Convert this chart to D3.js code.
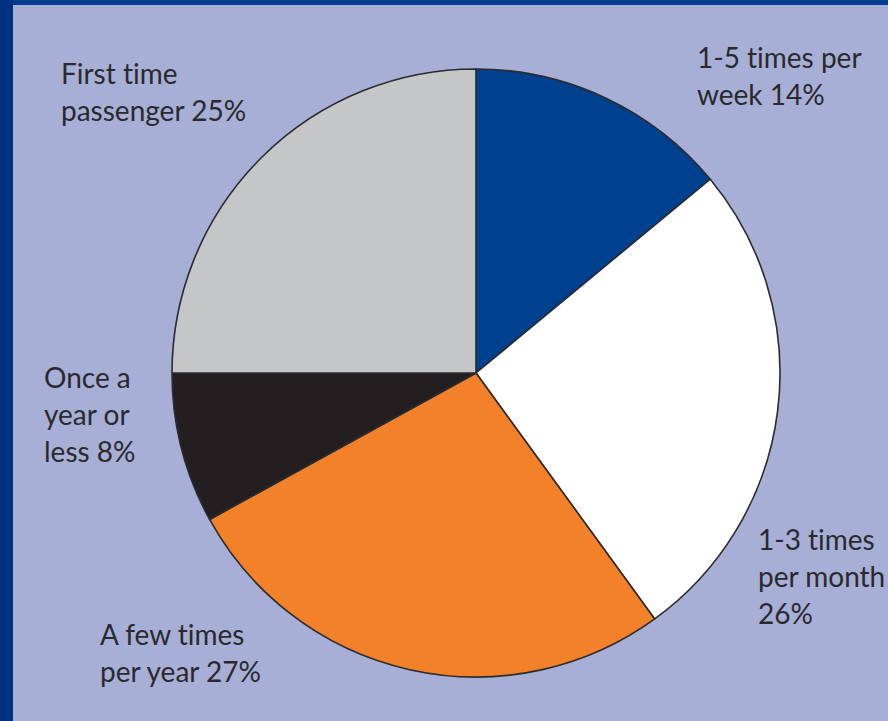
<!DOCTYPE html>
<html>
<head>
<meta charset="utf-8">
<script src="https://cdn.jsdelivr.net/npm/d3@7"></script>
<style>
  html, body { margin: 0; padding: 0; background: #a8afd6; }
  svg { display: block; }
  text { font-variant-ligatures: none; font-feature-settings: "liga" 0; }
</style>
</head>
<body>
<div id="chart"></div>
<script>
const categories = ["1-5 times per week", "1-3 times per month", "A few times per year", "Once a year or less", "First time passenger"];
const shares = [14, 26, 27, 8, 25];
const sliceColors = ["#00418f", "#ffffff", "#f3812a", "#231f20", "#c5c6c8"];
// label lines as printed next to each slice
const labelLines = [
  ["1-5 times per", "week 14%"],
  ["1-3 times", "per month", "26%"],
  ["A few times", "per year 27%"],
  ["Once a", "year or", "less 8%"],
  ["First time", "passenger 25%"]
];
const labelAnchors = [[697, 68], [758, 550], [100, 645], [44, 388], [61, 84]];

const width = 888, height = 721;
const cx = 476, cy = 373, radius = 304;

const svg = d3.select("#chart").append("svg")
  .attr("width", width).attr("height", height);

svg.append("rect").attr("width", width).attr("height", height).attr("fill", "#a8afd6");
svg.append("rect").attr("width", width).attr("height", 5).attr("fill", "#003c8f");
svg.append("rect").attr("width", 13).attr("height", height).attr("fill", "#00337f");

const data = categories.map((c, i) => ({ name: c, value: shares[i], color: sliceColors[i], lines: labelLines[i], at: labelAnchors[i] }));

const pie = d3.pie().value((d) => d.value).sort(null);
const arc = d3.arc().innerRadius(0).outerRadius(radius);

const g = svg.append("g").attr("transform", `translate(${cx},${cy})`);
g.selectAll("path")
  .data(pie(data))
  .join("path")
  .attr("d", arc)
  .attr("fill", (d) => d.data.color)
  .attr("stroke", "#2b2b30")
  .attr("stroke-width", 1.6)
  .attr("stroke-linejoin", "round");

const labels = svg.append("g")
  .attr("font-family", "Lato, 'Open Sans', sans-serif")
  .attr("font-size", 28)
  .attr("fill", "#2a2a2e");

labels.selectAll("text")
  .data(data)
  .join("text")
  .attr("x", (d) => d.at[0])
  .attr("y", (d) => d.at[1])
  .selectAll("tspan")
  .data((d) => d.lines.map((l, i) => ({ l, i, x: d.at[0] })))
  .join("tspan")
  .attr("x", (t) => t.x)
  .attr("dy", (t) => (t.i === 0 ? 0 : 37))
  .text((t) => t.l);
</script>
</body>
</html>
